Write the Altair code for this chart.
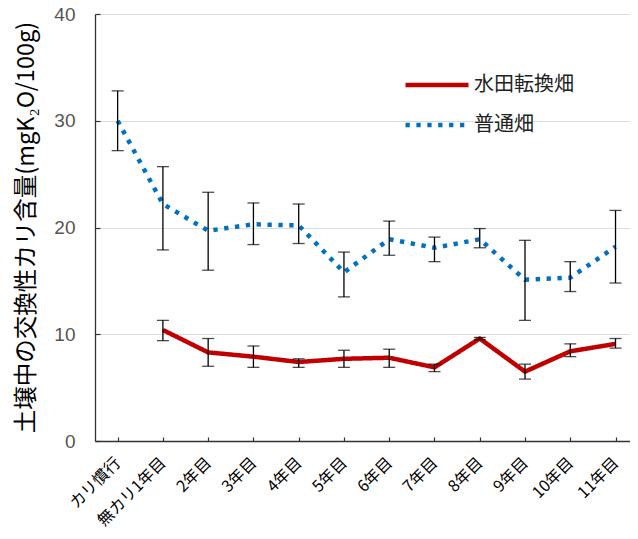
import altair as alt
import pandas as pd

categories = ["カリ慣行", "無カリ1年目", "2年目", "3年目", "4年目", "5年目",
              "6年目", "7年目", "8年目", "9年目", "10年目", "11年目"]

series_names = ["水田転換畑", "普通畑"]

# 普通畑 (dotted blue)
normal_mean = [30.0, 22.2, 19.7, 20.3, 20.2, 15.8, 18.9, 18.1, 18.9, 15.1, 15.3, 18.2]
normal_hi   = [32.8, 25.7, 23.3, 22.3, 22.2, 17.7, 20.6, 19.1, 19.9, 18.8, 16.8, 21.6]
normal_lo   = [27.2, 17.9, 16.0, 18.4, 18.5, 13.5, 17.4, 16.8, 18.1, 11.3, 14.0, 14.8]

# 水田転換畑 (solid red); no value for カリ慣行
paddy_mean = [None, 10.4, 8.3, 7.9, 7.4, 7.7, 7.8, 6.9, 9.6, 6.5, 8.4, 9.1]
paddy_hi   = [None, 11.3, 9.6, 8.9, 7.7, 8.5, 8.6, 7.2, 9.7, 7.2, 9.1, 9.6]
paddy_lo   = [None, 9.4, 7.0, 6.9, 6.9, 6.9, 6.9, 6.5, 9.5, 5.8, 7.9, 8.7]

y_ticks = [0, 10, 20, 30, 40]

rows = []
for i, c in enumerate(categories):
    if paddy_mean[i] is not None:
        rows.append({"cat": c, "series": series_names[0], "v": paddy_mean[i],
                     "hi": paddy_hi[i], "lo": paddy_lo[i]})
for i, c in enumerate(categories):
    rows.append({"cat": c, "series": series_names[1], "v": normal_mean[i],
                 "hi": normal_hi[i], "lo": normal_lo[i]})
df = pd.DataFrame(rows)

JP = "Noto Sans CJK JP"

xscale = alt.Scale(type="point", domain=categories, padding=0.41, align=0.61)
yscale = alt.Scale(domain=[0, 40])

x_main = alt.X("cat:N", scale=xscale, sort=categories,
               axis=alt.Axis(orient="bottom", title=None, ticks=False, labelAngle=-45,
                             labelAlign="right", labelBaseline="middle",
                             labelFont=JP, labelFontSize=16, labelColor="#000",
                             labelPadding=19, domainColor="#333", domainWidth=1.3))
y_main = alt.Y("v:Q", scale=yscale,
               axis=alt.Axis(orient="left", values=y_ticks, ticks=False,
                             labelFont="Liberation Sans", labelFontSize=19,
                             labelColor="#555", labelPadding=20,
                             domainColor="#333", domainWidth=1.3,
                             title="土壌中の交換性カリ含量(mgK₂O/100g)",
                             titleFont=JP, titleFontSize=23.5, titleFontWeight="normal",
                             titleColor="#000", titleX=-69, titleY=213, titleLimit=1000,
                             titleAlign="center", titleBaseline="middle", titleAngle=-90))

color = alt.Color("series:N", scale=alt.Scale(domain=series_names, range=["#C00000", "#0070C0"]),
                  legend=alt.Legend(orient="none", legendX=308, legendY=61, title=None,
                                    symbolType="stroke", symbolSize=3969, symbolStrokeWidth=4.5,
                                    clipHeight=20, rowPadding=20, labelOffset=3, padding=0,
                                    labelFont=JP, labelFontSize=20, labelColor="#222"))
dash = alt.StrokeDash("series:N", scale=alt.Scale(domain=series_names, range=[[1, 0], [4.3, 6.6]]))

lines = alt.Chart(df).mark_line(strokeWidth=4.5, strokeJoin="round").encode(
    x=x_main, y=y_main, color=color, strokeDash=dash, detail="series:N")

x_plain = alt.X("cat:N", scale=xscale, sort=categories, axis=None)
err = alt.Chart(df).mark_rule(color="#000", strokeWidth=1.3).encode(
    x=x_plain, y=alt.Y("lo:Q", scale=yscale, axis=None), y2="hi:Q")
cap_hi = alt.Chart(df).mark_tick(color="#000", size=12, thickness=1.3).encode(
    x=x_plain, y=alt.Y("hi:Q", scale=yscale, axis=None))
cap_lo = alt.Chart(df).mark_tick(color="#000", size=12, thickness=1.3).encode(
    x=x_plain, y=alt.Y("lo:Q", scale=yscale, axis=None))

# invisible layer carrying inward-pointing tick marks
ticks_layer = alt.Chart(df).mark_point(opacity=0).encode(
    x=alt.X("cat:N", scale=xscale, sort=categories,
            axis=alt.Axis(orient="bottom", offset=-4, tickSize=4, labels=False, domain=False,
                          title=None, tickColor="#333", tickWidth=1.2)),
    y=alt.Y("v:Q", scale=yscale,
            axis=alt.Axis(orient="left", offset=-5, tickSize=5, labels=False, domain=False,
                          title=None, values=y_ticks, tickColor="#333", tickWidth=1.2, grid=False)))

chart = alt.layer(lines, err, cap_hi, cap_lo, ticks_layer).resolve_axis(
    x="independent", y="independent"
).properties(
    width=535, height=427,
    autosize=alt.AutoSizeParams(type="none"),
    padding={"left": 87, "top": 6, "right": 0, "bottom": 90},
).configure_view(stroke=None).configure_axis(grid=False).configure(background="white")

chart.save("out.html", embed_options={"renderer": "svg", "actions": False})
